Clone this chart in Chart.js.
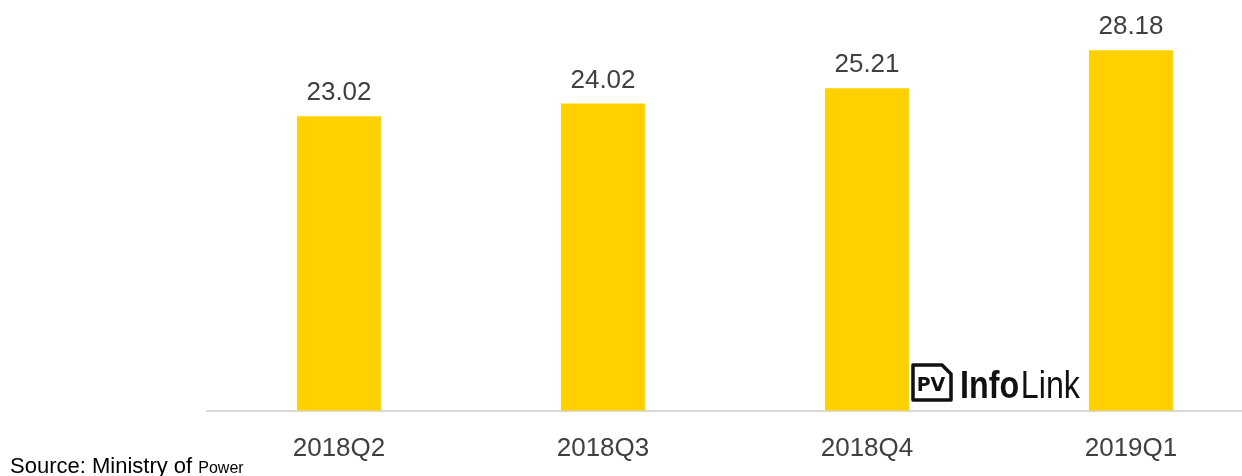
<!DOCTYPE html>
<html>
<head>
<meta charset="utf-8">
<script src="https://cdn.jsdelivr.net/npm/chart.js@4/dist/chart.umd.min.js"></script>
<style>
  html, body { margin: 0; padding: 0; overflow: hidden; background: #fff; }
  #wrap { position: absolute; left: 0; top: 0; }
</style>
</head>
<body>
<div id="wrap"><canvas id="chart" width="1263" height="476"></canvas></div>
<script>
const categories = ['2018Q2', '2018Q3', '2018Q4', '2019Q1'];
const values = [23.02, 24.02, 25.21, 28.18];
const yMax = 30;

Chart.defaults.font.family = "'Liberation Sans', Arial, sans-serif";
Chart.defaults.color = '#404040';

// value labels above each bar
const barLabels = {
  id: 'barLabels',
  afterDatasetsDraw(chart) {
    const c = chart.ctx;
    const meta = chart.getDatasetMeta(0);
    c.save();
    c.font = "26px 'Liberation Sans', Arial, sans-serif";
    c.fillStyle = '#404040';
    c.textAlign = 'center';
    c.textBaseline = 'alphabetic';
    meta.data.forEach((bar, i) => {
      c.fillText(values[i].toFixed(2), bar.x, bar.y - 16);
    });
    c.restore();
  }
};

// source note and logo
const extras = {
  id: 'extras',
  afterDraw(chart) {
    const c = chart.ctx;
    c.save();
    c.fillStyle = '#000';
    c.textBaseline = 'alphabetic';
    c.textAlign = 'left';
    c.font = "22px 'Liberation Sans', Arial, sans-serif";
    const s = 'Source: Ministry of ';
    c.fillText(s, 10, 473);
    const w = c.measureText(s).width;
    c.font = "16px 'Liberation Sans', Arial, sans-serif";
    c.fillText('Power', 10 + w, 473);

    // logo icon
    c.strokeStyle = '#111';
    c.lineWidth = 3.5;
    c.lineJoin = 'round';
    c.beginPath();
    c.moveTo(913, 365);
    c.lineTo(942, 365);
    c.lineTo(951, 374);
    c.lineTo(951, 400);
    c.lineTo(913, 400);
    c.closePath();
    c.stroke();
    c.fillStyle = '#111';
    c.font = "bold 19px 'DejaVu Sans', sans-serif";
    c.textAlign = 'center';
    c.fillText('PV', 931, 391);
    c.textAlign = 'left';
    // condensed word mark
    c.translate(960, 398);
    c.font = "bold 38px 'Liberation Sans', Arial, sans-serif";
    const iw = c.measureText('Info').width;
    c.font = "38px 'Liberation Sans', Arial, sans-serif";
    const lw = c.measureText('Link').width;
    c.scale(120 / (iw + lw + 2), 1);
    c.font = "bold 38px 'Liberation Sans', Arial, sans-serif";
    c.fillText('Info', 0, 0);
    c.font = "38px 'Liberation Sans', Arial, sans-serif";
    c.fillText('Link', iw + 2, 0);
    c.restore();
  }
};

new Chart(document.getElementById('chart'), {
  type: 'bar',
  data: {
    labels: categories,
    datasets: [{
      data: values,
      backgroundColor: '#FFD100',
      barPercentage: 0.318,
      categoryPercentage: 1
    }]
  },
  options: {
    responsive: false,
    animation: false,
    devicePixelRatio: 1,
    layout: { padding: { left: 207, right: 0, top: 27, bottom: -10 } },
    plugins: { legend: { display: false }, tooltip: { enabled: false } },
    scales: {
      x: {
        grid: { display: false, drawTicks: false },
        border: { color: '#d9d9d9', width: 2 },
        ticks: { font: { size: 26 }, color: '#404040', padding: 22 }
      },
      y: {
        display: false,
        min: 0,
        max: yMax
      }
    }
  },
  plugins: [barLabels, extras]
});
</script>
</body>
</html>
